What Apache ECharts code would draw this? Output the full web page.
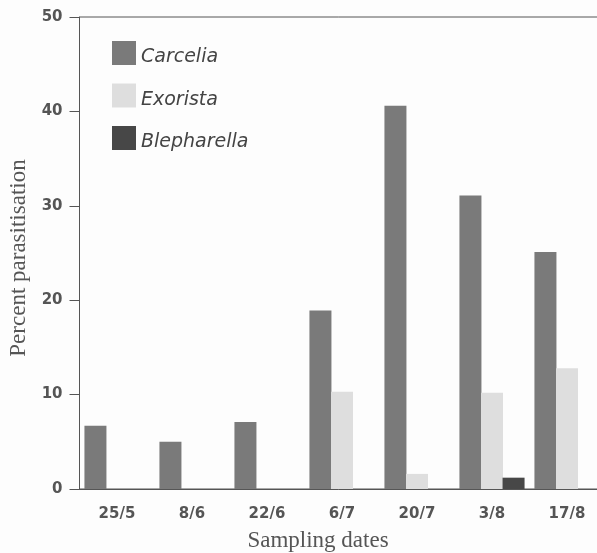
<!DOCTYPE html>
<html>
<head>
<meta charset="utf-8">
<script src="https://cdn.jsdelivr.net/npm/echarts@6/dist/echarts.min.js"></script>
<style>html,body{margin:0;padding:0;background:#fdfdfd;}#c{width:597px;height:553px;}</style>
</head>
<body>
<div id="c"></div>
<script>
var categories = ['25/5', '8/6', '22/6', '6/7', '20/7', '3/8', '17/8'];
var carcelia = [6.7, 5.0, 7.1, 18.9, 40.6, 31.1, 25.1];
var exorista = [0, 0, 0, 10.3, 1.6, 10.2, 12.8];
var blepharella = [0, 0, 0, 0, 0, 1.2, 0];
var yTicks = [0, 10, 20, 30, 40, 50];

var chart = echarts.init(document.getElementById('c'), null, {renderer: 'canvas'});
var tickFont = {fontFamily: 'DejaVu Sans', fontWeight: 'bold', fontSize: 15, color: '#555'};
chart.setOption({
  backgroundColor: '#fdfdfd',
  animation: false,
  grid: {left: 79.5, top: 17, width: 525, height: 472, outerBoundsMode: 'none', containLabel: false, show: true, borderColor: '#555', borderWidth: 1, backgroundColor: 'transparent'},
  legend: {
    orient: 'vertical', left: 107, top: 36, itemWidth: 24, itemHeight: 24, itemGap: 16.5,
    icon: 'rect',
    formatter: function (n) { return '{a|' + n + '}'; },
    textStyle: {
      fontFamily: 'DejaVu Sans', fontStyle: 'italic', fontSize: 19, color: '#444',
      rich: {a: {fontFamily: 'DejaVu Sans', fontStyle: 'italic', fontSize: 19, color: '#444', padding: [9, 0, 0, 0]}}
    },
    data: ['Carcelia', 'Exorista', 'Blepharella']
  },
  xAxis: {
    type: 'category', data: categories,
    name: 'Sampling dates', nameLocation: 'middle', nameGap: 40,
    nameTextStyle: {fontFamily: 'Liberation Serif', fontSize: 23, color: '#555', padding: [0, 48, 0, 0]},
    axisLine: {lineStyle: {color: '#555', width: 1}},
    axisTick: {alignWithLabel: true, length: 8, lineStyle: {color: '#555'}},
    axisLabel: Object.assign({margin: 18}, tickFont)
  },
  yAxis: {
    type: 'value', min: 0, max: 50, interval: 10,
    name: 'Percent parasitisation', nameLocation: 'middle', nameGap: 47, nameRotate: 90,
    nameTextStyle: {fontFamily: 'Liberation Serif', fontSize: 23, color: '#555', padding: [0, 10, 0, 0]},
    axisLine: {show: true, lineStyle: {color: '#555', width: 1}},
    axisTick: {show: true, length: 10, lineStyle: {color: '#555'}},
    splitLine: {show: false},
    axisLabel: Object.assign({margin: 17, formatter: function (v) { return yTicks.indexOf(v) >= 0 ? String(v) : ''; }}, tickFont)
  },
  series: [
    {name: 'Carcelia', type: 'bar', data: carcelia, barWidth: 22, barGap: '-2%', itemStyle: {color: '#7a7a7a'}},
    {name: 'Exorista', type: 'bar', data: exorista, barWidth: 22, barGap: '-2%', itemStyle: {color: '#dedede'}},
    {name: 'Blepharella', type: 'bar', data: blepharella, barWidth: 22, barGap: '-2%', itemStyle: {color: '#474747'}}
  ]
});
</script>
</body>
</html>
